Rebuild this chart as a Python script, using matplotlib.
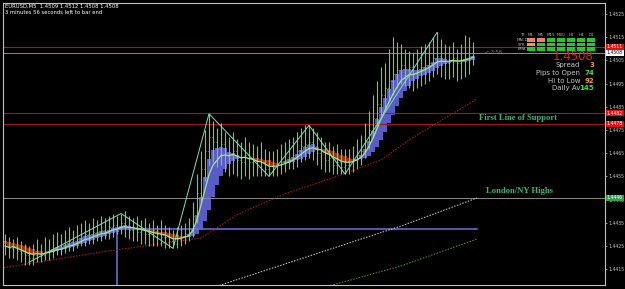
import numpy as np
import pandas as pd
import matplotlib.pyplot as plt
from matplotlib.patches import Rectangle

BASE = 1.4400
PIP = 0.0001

# EURUSD M5 bars, in pips above 1.4400
first_open = 27
closes = [25, 24, 25, 23, 22, 21, 20,
          21, 22, 21, 23, 23, 24, 25, 24, 26, 27,
          26, 28, 29, 30, 29, 31, 31, 32, 31, 33, 34, 33, 35,
          34, 32, 33, 31, 32, 30, 31, 29, 30, 29, 29, 27, 26,
          28, 29, 30, 31,
          38, 48, 58, 66, 72,
          70, 67, 69, 65, 63, 66, 62, 61, 64, 61, 62, 59, 61, 58, 57,
          59, 60, 61, 62, 63, 64, 66, 68, 69, 70,
          68, 65, 66, 62, 63, 60, 61, 59, 60,
          61, 62, 64, 66, 70, 75, 80, 86,
          90, 93, 96, 99, 101, 103, 101, 102, 99, 101, 102, 103, 104, 106, 107,
          106, 104, 105, 106, 104, 105, 106, 107, 108]
highs = [30, 29, 28, 29, 27, 26, 25,
         26, 28, 26, 29, 28, 30, 31, 30, 32, 33,
         32, 34, 35, 36, 35, 37, 36, 38, 37, 38, 39, 38, 39,
         40, 38, 37, 38, 36, 37, 35, 36, 34, 36, 34, 33, 32,
         33, 34, 35, 37,
         44, 56, 66, 75, 82,
         79, 76, 78, 74, 72, 74, 71, 70, 72, 70, 69, 68, 70, 67, 66,
         66, 67, 69, 70, 71, 72, 74, 76, 77, 77,
         76, 74, 72, 70, 70, 68, 69, 67, 67,
         67, 68, 71, 73, 78, 83, 90, 96,
         102, 104, 110, 115, 113, 112, 110, 109, 108, 110, 111, 112, 113, 115, 117,
         114, 112, 111, 113, 110, 112, 116, 115, 113]
lows = [21, 20, 20, 19, 18, 17, 17,
        17, 18, 18, 19, 19, 20, 21, 21, 22, 23,
        23, 24, 25, 25, 26, 26, 27, 27, 28, 28, 29, 30, 30,
        29, 28, 27, 27, 26, 26, 25, 25, 25, 25, 24, 24, 24,
        24, 25, 26, 27,
        29, 35, 44, 53, 60,
        61, 59, 60, 57, 55, 56, 55, 54, 55, 54, 55, 55, 55, 55, 55,
        55, 55, 56, 57, 58, 58, 59, 61, 62, 63,
        62, 60, 58, 57, 57, 56, 56, 56, 56,
        56, 57, 58, 60, 63, 67, 72, 77,
        81, 84, 87, 90, 93, 95, 94, 93, 92, 93, 94, 95, 96, 98, 99,
        98, 97, 97, 98, 96, 97, 98, 99, 103]

# zigzag swing points (bar index, pips)
zz_bars = [6, 29, 42, 51, 66, 76, 85, 108]
zz_pips = [18, 39, 24, 82, 55, 77, 56, 117]

# slow averages (bar index, pips)
slow_bars = [-1, 24, 49, 58, 70, 84, 94, 101, 118]
slow_pips = [15.5, 22.4, 28.4, 38.5, 47.5, 55.6, 62, 70.7, 88.4]
white_bars = [50, 99, 118]
white_pips = [6, 33.6, 45.7]
green_bars = [80, 99, 118]
green_pips = [7.3, 16.4, 28]

# horizontal levels (pips)
level_top = 110.8
level_bid = 108.2
support_hi = 82.3
support_lo = 77.6
london_ny = 45.7
pivot = 32.3
pivot_start = 28

# trend panel
timeframes = ["M1", "M5", "M15", "M30", "H1", "H4", "D1"]
rows = ["MACD", "STR", "EMA"]
states = [["dn", "dn", "up", "up", "up", "up", "up"],
          ["mid", "up", "up", "up", "up", "up", "up"],
          ["up", "up", "up", "up", "up", "up", "up"]]
stats = [("Spread", "3"), ("Pips to Open", "74"), ("Hi to Low", "92"), ("Daily Av", "145")]

W, H = 625, 289
def fx(x):
    return x / W
def fy(y):
    return 1 - y / H

def p(v):
    return BASE + np.asarray(v, dtype=float) * PIP

c = np.array(closes, dtype=float)
hi = np.array(highs, dtype=float)
lo = np.array(lows, dtype=float)
o = np.r_[first_open, c[:-1]]
x = np.arange(len(c))

# smoothed heiken ashi bodies
ha_c = pd.Series((o + hi + lo + c) / 4).ewm(span=3).mean().values
ha_o = np.zeros_like(ha_c)
ha_o[0] = o[0]
for i in range(1, len(c)):
    ha_o[i] = (3 * ha_o[i - 1] + ha_c[i - 1]) / 4
fast = pd.Series(c).ewm(span=6).mean().values

fig = plt.figure(figsize=(6.25, 2.89), dpi=100, facecolor="black")
ax = fig.add_axes([fx(3), fy(285), fx(605) - fx(3), fy(3) - fy(285)])
ax.set_facecolor("black")
ax.set_xlim(-0.5, 150)
ax.set_ylim(p(8.2), p(129.7))

# levels
ax.axhline(p(level_top), color="#b01818", lw=0.8)
ax.axhline(p(level_bid), color="#a0a0a0", lw=0.6)
ax.axhline(p(support_hi), color="#a01818", lw=0.8)
ax.axhline(p(support_lo), color="#a01818", lw=0.8)
ax.axhline(p(london_ny), color="#8a8a8a", lw=0.7)
ax.plot([pivot_start, 118], p([pivot, pivot]), color="#7070e0", lw=1.1)
ax.plot([pivot_start, pivot_start], p([pivot, 0]), color="#7070e0", lw=1.1)

# slow averages
ax.plot(slow_bars, p(slow_pips), color="#c02020", lw=0.7, ls=(0, (1.5, 1.5)))
ax.plot(white_bars, p(white_pips), color="#d8d8d8", lw=0.7, ls=(0, (1.5, 1.5)))
ax.plot(green_bars, p(green_pips), color="#50a050", lw=0.7, ls=(0, (1.5, 1.5)))

# bodies
bull = ha_c >= ha_o
body_col = np.where(bull, "#5a5ac8", "#9b2d10")
ax.bar(x, p(ha_c) - p(ha_o), bottom=p(ha_o), width=0.9, color=body_col, lw=0)

# bars
ax.vlines(x, p(lo), p(hi), color="#74d04a", lw=0.8)
ax.hlines(p(o), x - 0.35, x, color="#74d04a", lw=0.6)
ax.hlines(p(c), x, x + 0.35, color="#74d04a", lw=0.6)

ax.plot(x, p(fast), color="#a0ec80", lw=0.9)
ax.plot(zz_bars, p(zz_pips), color="#7fe0b0", lw=0.7)

ax.text(120, p(108.5), "< 3:56", color="#808080", fontsize=3.6, va="center")

ax.text(118.5, p((support_hi + support_lo) / 2), "First Line of Support", color="#3cb371",
        fontsize=6.2, fontweight="bold", family="Liberation Serif", va="center")
ax.text(120.3, p(london_ny + 2.8), "London/NY Highs", color="#3cb371",
        fontsize=6.2, fontweight="bold", family="Liberation Serif", va="center")

# axis styling
ax.set_xticks([])
ax.yaxis.tick_right()
ticks = p(np.arange(15, 126, 10))
ax.set_yticks(ticks)
ax.set_yticklabels([f"{t:.4f}" for t in ticks])
ax.tick_params(axis="y", colors="#c8c8c8", labelsize=3.3, length=1.5, width=0.5, pad=1)
for s in ax.spines.values():
    s.set_color("#c0c0c0")
    s.set_linewidth(0.8)

def tag(level, text, fc, tc="white"):
    ax.text(1.003, p(level), text, transform=ax.get_yaxis_transform(), fontsize=3.3,
            color=tc, va="center", ha="left",
            bbox=dict(boxstyle="square,pad=0.15", fc=fc, ec="none"))

tag(level_top, "1.4511", "#e01010")
tag(level_bid, "1.4508", "white", "black")
tag(support_hi, "1.4482", "#e01010")
tag(support_lo, "1.4478", "#e01010")
tag(london_ny, "1.4446", "#30a050")

# header text
fig.text(fx(5), fy(6), "EURUSD,M5  1.4509 1.4512 1.4508 1.4508", color="white",
         fontsize=3.8, va="center")
fig.text(fx(5), fy(12), "3 minutes 56 seconds left to bar end", color="white",
         fontsize=3.8, va="center")

# trend panel
cell_col = {"up": "#22cc22", "dn": "#f08070", "mid": "#f0a030"}
fig.text(fx(522), fy(35), "TF", color="#b0b0b0", fontsize=3, ha="center", va="center")
for j, tf in enumerate(timeframes):
    cx = 531 + j * 10
    fig.text(fx(cx), fy(35), tf, color="#b0b0b0", fontsize=3, ha="center", va="center")
    for r, row in enumerate(rows):
        cy = 38 + r * 4.5
        fig.add_artist(Rectangle((fx(cx - 4), fy(cy + 3.6)), 8 / W, 3.6 / H,
                                 transform=fig.transFigure, fc=cell_col[states[r][j]], ec="none"))
for r, row in enumerate(rows):
    fig.text(fx(522), fy(40 + r * 4.5), row, color="#b0b0b0", fontsize=2.8,
             ha="center", va="center")

fig.text(fx(594), fy(56), "1.4508", color="#e02020", fontsize=8.5, ha="right", va="center")
val_col = ["#f0a030", "#40e040", "#f0a030", "#40e040"]
for k, (lab, val) in enumerate(stats):
    yy = 65 + k * 7.8
    fig.text(fx(580), fy(yy), lab, color="#c8c8c8", fontsize=5, ha="right", va="center")
    fig.text(fx(594), fy(yy), val, color=val_col[k], fontsize=5, ha="right",
             va="center", fontweight="bold")

fig.savefig("out.png", dpi=100, facecolor="black")
